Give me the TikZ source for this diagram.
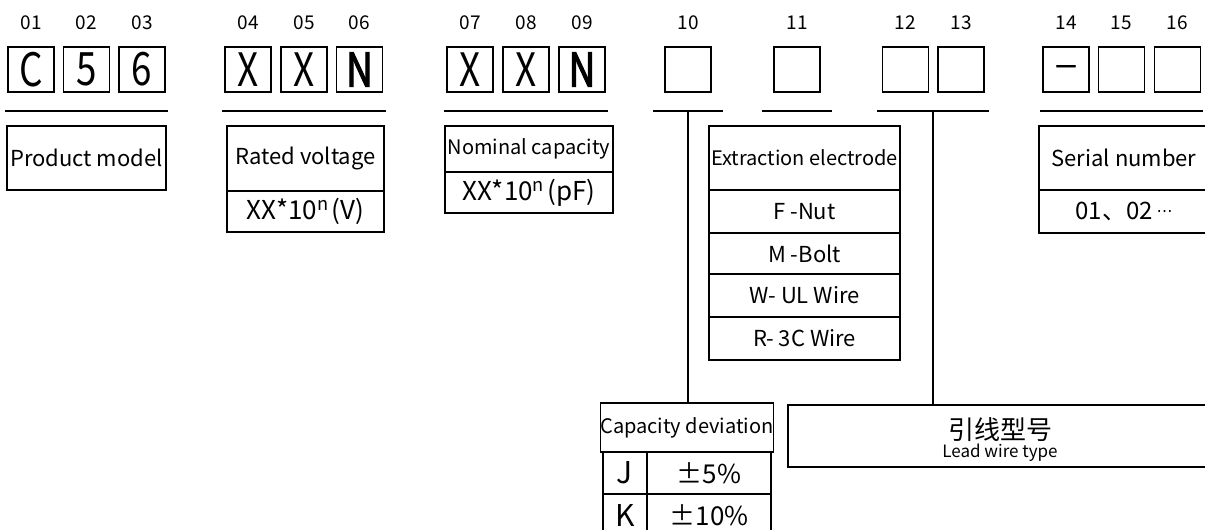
\documentclass[tikz,border=0pt]{standalone}
\usepackage{graphicx}
\usepackage{fontspec}
\setmainfont{Noto Sans CJK SC}
\newfontfamily\dejavu{DejaVu Sans}
\newfontfamily\medfont[FakeBold=3]{Noto Sans CJK SC}
\newcommand{\fs}[1]{\fontsize{#1}{#1}\selectfont}
\newcommand{\cond}[2]{\scalebox{#1}[1]{#2}}
\begin{document}
\begin{tikzpicture}[x=1pt,y=-1pt,
  cell/.style={draw, line width=1.5pt, inner sep=0pt, outer sep=0pt, align=center},
  charbox/.style={cell, minimum width=46pt, minimum height=45pt, font=\fs{46}},
  num/.style={inner sep=0pt, font=\fs{19}},
  rulel/.style={line width=1.6pt},
  link/.style={line width=1.6pt},
  txt/.style={inner sep=0pt}]
\useasboundingbox (0,0) rectangle (1205,530);
\clip (0,0) rectangle (1205,530);

% position numbers
\foreach \n/\x in {01/31,02/86.5,03/142,04/248,05/304,06/359.5,07/470,08/526,09/582,10/688,11/797,12/905.5,13/961,14/1066,15/1121.5,16/1177.5}
  \node[num] (n\n) at (\x,23) {\n};

% character boxes
\node[charbox] (b01) at (31,69.5) {\cond{0.8}{C}};
\node[charbox] (b02) at (86.5,69.5) {\cond{0.8}{5}};
\node[charbox] (b03) at (142,69.5) {\cond{0.8}{6}};
\node[charbox] (b04) at (248,69.5) {\cond{0.8}{X}};
\node[charbox] (b05) at (304,69.5) {\cond{0.8}{X}};
\node[charbox] (b06) at (359.5,69.5) {\cond{0.8}{\medfont N}};
\node[charbox] (b07) at (470,69.5) {\cond{0.8}{X}};
\node[charbox] (b08) at (526,69.5) {\cond{0.8}{X}};
\node[charbox] (b09) at (582,69.5) {\cond{0.8}{\medfont N}};
\node[charbox] (b10) at (688,69.5) {};
\node[charbox] (b11) at (797,69.5) {};
\node[charbox] (b12) at (905.5,69.5) {};
\node[charbox] (b13) at (961,69.5) {};
\node[charbox] (b14) at (1066,69.5) {\cond{0.9}{\fs{26}\medfont —}};
\node[charbox] (b15) at (1121.5,69.5) {};
\node[charbox] (b16) at (1177.5,69.5) {};

% underlines
\draw[rulel] (5,111) -- (168,111);
\draw[rulel] (222,111) -- (386,111);
\draw[rulel] (444,111) -- (608,111);
\draw[rulel] (653,111) -- (723,111);
\draw[rulel] (762,111) -- (832,111);
\draw[rulel] (877,111) -- (989,111);
\draw[rulel] (1040,111) -- (1203,111);
\coordinate (u10) at (688,111);
\coordinate (u12) at (933,111);

% product model
\node[cell, minimum width=159pt, minimum height=64pt, font=\fs{22}] (pm) at (86.5,158) {Product model};
% rated voltage
\node[cell, minimum width=157pt, minimum height=65pt, font=\fs{22}] (rv1) at (305.5,158.5) {Rated voltage};
\node[cell, minimum width=157pt, minimum height=41pt, font=\fs{26}] (rv2) at (305.5,211.5) {XX*10\textsuperscript{n}\hspace{3pt}(V)};
% nominal capacity
\node[cell, minimum width=168pt, minimum height=46pt, font=\fs{20}] (nc1) at (529,149) {Nominal capacity};
\node[cell, minimum width=168pt, minimum height=41pt, font=\fs{26}] (nc2) at (529,192.5) {XX*10\textsuperscript{n}\hspace{3pt}(pF)};
% extraction electrode
\node[cell, minimum width=191pt, minimum height=64pt, font=\fs{20}] (ee1) at (804.5,158) {Extraction electrode};
\node[cell, minimum width=191pt, minimum height=43pt, font=\fs{22}] (ee2) at (804.5,211.5) {F -Nut};
\node[cell, minimum width=191pt, minimum height=41pt, font=\fs{22}] (ee3) at (804.5,253.5) {M -Bolt};
\node[cell, minimum width=191pt, minimum height=43pt, font=\fs{22}] (ee4) at (804.5,295.5) {W- UL Wire};
\node[cell, minimum width=191pt, minimum height=43pt, font=\fs{22}] (ee5) at (804.5,338.5) {R- 3C Wire};
% serial number
\node[cell, minimum width=170pt, minimum height=64pt, font=\fs{22}] (sn1) at (1124,158) {Serial number};
\node[cell, minimum width=170pt, minimum height=43pt, font=\fs{24}] (sn2) at (1124,211.5) {01、02\,\raisebox{3pt}{\dejavu\fs{16}⋯}};
% capacity deviation
\node[cell, minimum width=168pt, minimum height=49pt, font=\fs{20}] (cd) at (687,427.5) {Capacity deviation};
\node[cell, minimum width=44pt, minimum height=42pt, font=\fs{30}] (cdJ) at (625,473) {J};
\node[cell, minimum width=124pt, minimum height=42pt, font=\fs{26}] (cdJv) at (709,473) {±5\%};
\node[cell, minimum width=44pt, minimum height=42pt, font=\fs{30}] (cdK) at (625,515) {K};
\node[cell, minimum width=124pt, minimum height=42pt, font=\fs{26}] (cdKv) at (709,515) {±10\%};
% lead wire type
\node[cell, minimum width=424pt, minimum height=62pt] (lw) at (1000,436) {};
\node[txt, font=\fs{26}] (lwzh) at (1000,430) {引线型号};
\node[txt, font=\fs{17}] (lwen) at (1000,453) {Lead wire type};

% connectors
\draw[link] (u10) -- (u10 |- cd.north);
\draw[link] (u12) -- (u12 |- lw.north);
\end{tikzpicture}
\end{document}
